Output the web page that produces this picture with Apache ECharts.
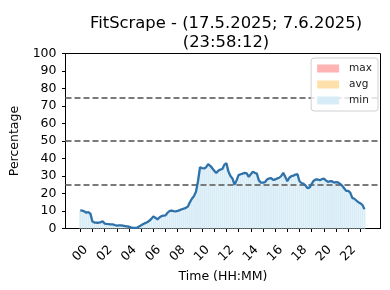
<!DOCTYPE html>
<html>
<head>
<meta charset="utf-8">
<script src="https://cdn.jsdelivr.net/npm/echarts@6/dist/echarts.min.js"></script>
<style>
html,body{margin:0;padding:0;background:#fff;}
#chart{width:390px;height:290px;}
</style>
</head>
<body>
<div id="chart"></div>
<script>
// Time of day in hours, one sample every 10 minutes (00:00 .. 23:20)
const sampleStepMinutes = 10;
// Occupancy percentage per sample
const minValues = [
  10.3, 10.2, 9.8, 9.0, 9.4, 8.5,
  4.0, 3.4, 3.3, 3.3, 3.5, 4.2,
  2.8, 2.6, 2.5, 2.4, 2.4, 2.0,
  1.7, 1.8, 1.8, 1.6, 1.4, 1.2,
  1.0, 0.6, 0.4, 0.3, 0.4, 1.2,
  1.8, 2.6, 3.1, 3.6, 4.4, 5.5,
  6.9, 6.2, 5.2, 6.3, 7.1, 7.3,
  7.5, 9.0, 10.0, 10.2, 9.9, 9.8,
  10.1, 10.5, 11.0, 11.3, 11.8, 12.5,
  15.0, 17.0, 18.5, 21.0, 27.0, 35.0,
  34.5, 34.3, 35.0, 36.8, 35.8, 34.5,
  33.0, 31.8, 33.0, 33.7, 34.0, 36.5,
  37.3, 32.5, 30.0, 28.5, 25.0, 27.5,
  30.5, 31.0, 31.4, 31.8, 31.5, 29.5,
  31.0, 32.4, 31.8, 31.4, 27.5, 26.2,
  26.2, 26.5, 28.0, 28.6, 28.8, 27.8,
  28.0, 28.6, 29.0, 30.0, 31.8, 29.5,
  27.0, 29.0, 29.9, 30.2, 30.8, 31.0,
  27.0, 26.0, 25.5, 24.5, 23.0, 23.5,
  25.5, 27.3, 28.0, 28.0, 27.6, 28.2,
  28.5, 27.5, 26.6, 27.0, 27.0, 26.2,
  26.5, 26.3, 25.5, 24.5, 23.0, 21.5,
  21.5, 20.5, 17.5, 17.0, 16.0, 15.0,
  14.4, 13.5, 11.0
];
const maxValues = [];
const avgValues = [];
const thresholdLevels = [25, 50, 75];
const tickHours = [0,1,2,3,4,5,6,7,8,9,10,11,12,13,14,15,16,17,18,19,20,21,22,23];
const labelHours = [0,2,4,6,8,10,12,14,16,18,20,22];
const tickLabels = ['00','02','04','06','08','10','12','14','16','18','20','22'];
const titleLines = ['FitScrape - (17.5.2025; 7.6.2025)', '(23:58:12)'];

const hours = minValues.map((_, i) => i * sampleStepMinutes / 60);
const minPairs = minValues.map((v, i) => [hours[i], v]);

const FONT = 'DejaVu Sans';
const chart = echarts.init(document.getElementById('chart'), null, {renderer: 'canvas'});
chart.setOption({
  animation: false,
  backgroundColor: '#fff',
  title: {
    text: titleLines.join('\n'),
    left: 221, top: 9, textAlign: 'center',
    textStyle: {fontFamily: FONT, fontSize: 16.4, fontWeight: 'normal', color: '#000', lineHeight: 19}
  },
  legend: {
    orient: 'vertical', right: 12, top: 58,
    data: ['max', 'avg', 'min'],
    icon: 'rect', itemWidth: 22, itemHeight: 8, itemGap: 3,
    padding: [4, 6, 4, 6],
    backgroundColor: 'rgba(255,255,255,0.8)', borderColor: '#d0d0d0', borderWidth: 1, borderRadius: 3,
    textStyle: {fontFamily: FONT, fontSize: 10.5, color: '#222', lineHeight: 13, padding: [0, 0, 0, 5]}
  },
  grid: {left: 65.5, right: 9.5, top: 53.5, bottom: 61.5, show: true, borderColor: '#000', borderWidth: 1, backgroundColor: 'transparent'},
  xAxis: {
    type: 'value', min: -1.21, max: 24.65,
    name: 'Time (HH:MM)', nameLocation: 'middle', nameGap: 38,
    nameTextStyle: {fontFamily: FONT, fontSize: 12.5, color: '#000'},
    axisLine: {show: true, onZero: false, lineStyle: {color: '#000', width: 1}},
    axisTick: {show: true, length: 3.5, lineStyle: {color: '#000'}, customValues: tickHours},
    axisLabel: {
      customValues: labelHours, rotate: 45, margin: 25,
      align: 'center', verticalAlign: 'middle',
      fontFamily: FONT, fontSize: 12.5, color: '#000',
      formatter: v => tickLabels[labelHours.indexOf(v)]
    },
    splitLine: {show: false}
  },
  yAxis: {
    type: 'value', min: 0, max: 100, interval: 10,
    name: 'Percentage', nameLocation: 'middle', nameGap: 39,
    nameTextStyle: {fontFamily: FONT, fontSize: 12.5, color: '#000'},
    axisLine: {show: true, onZero: false, lineStyle: {color: '#000', width: 1}},
    axisTick: {show: true, length: 3.5, lineStyle: {color: '#000'}},
    axisLabel: {fontFamily: FONT, fontSize: 12.5, color: '#000', margin: 9},
    splitLine: {show: false}
  },
  series: [
    {name: 'max', type: 'bar', data: maxValues, barWidth: 1.8, barGap: '-100%', itemStyle: {color: '#ffb3b3'}},
    {name: 'avg', type: 'bar', data: avgValues, barWidth: 1.8, barGap: '-100%', itemStyle: {color: '#ffe0aa'}},
    {name: 'min', type: 'bar', data: minPairs, barWidth: 1.8, barGap: '-100%', itemStyle: {color: '#d7ecf6'}},
    {
      name: 'line', type: 'line', data: minPairs, symbol: 'none', z: 5,
      lineStyle: {color: '#2f72aa', width: 2.3}, itemStyle: {color: '#2f72aa'},
      markLine: {
        silent: true, symbol: 'none', label: {show: false}, z: 3,
        lineStyle: {color: '#7a7a7a', type: [6, 3], width: 2},
        data: thresholdLevels.map(v => ({yAxis: v}))
      }
    }
  ]
});
</script>
</body>
</html>
